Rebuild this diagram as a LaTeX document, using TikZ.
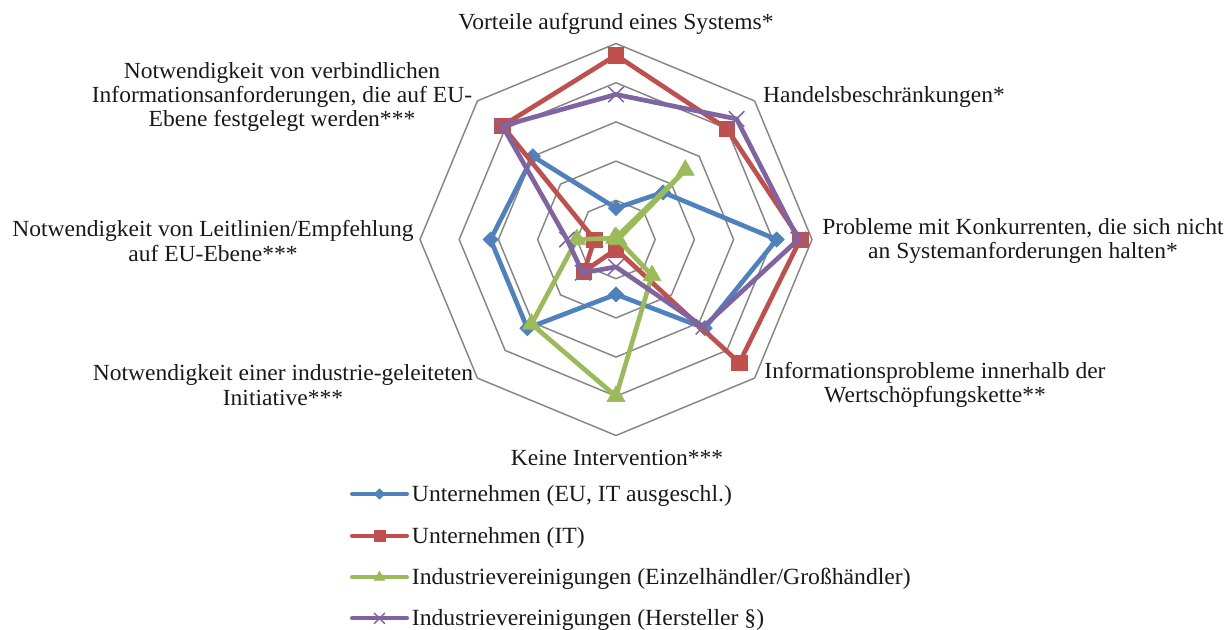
\documentclass[tikz,border=0pt]{standalone}
\usepackage{fontspec}
\setmainfont{Liberation Serif}[FakeStretch=1.02]
\usetikzlibrary{shapes.geometric,shapes.misc,calc}
\definecolor{cblue}{HTML}{4F81BD}
\definecolor{cred}{HTML}{C0504D}
\definecolor{cgreen}{HTML}{9BBB59}
\definecolor{cpurple}{HTML}{8064A2}
\definecolor{cgrid}{HTML}{868686}
\tikzset{
  ring/.style={draw=cgrid, line width=1.1pt, line join=miter},
  ser/.style={draw=#1, line width=3.5pt, line join=round},
  leg/.style={draw=#1, line width=3pt, line cap=round},
  lbl/.style={align=center, font=\fontsize{17.3}{18.3}\selectfont, inner sep=0pt, text=black!90},
  leglbl/.style={font=\fontsize{17.4}{20}\selectfont, inner sep=0pt, text=black!90, anchor=base west},
  bmark/.style={diamond, fill=cblue, draw=cblue, line width=0.5pt, inner sep=0pt, minimum size=11.5pt},
  rmark/.style={rectangle, fill=cred, draw=cred, line width=0.5pt, inner sep=0pt, minimum size=11.5pt},
  gmark/.style={regular polygon, regular polygon sides=3, fill=cgreen, draw=cgreen, line width=0.5pt, inner sep=0pt, minimum size=15.5pt},
  pmark/.style={cross out, draw=cpurple, line width=1.1pt, inner sep=0pt, minimum size=10.5pt},
}
\begin{document}
\begin{tikzpicture}[x=0.75pt,y=-0.75pt]
\useasboundingbox (0,0) rectangle (1231,629);
\coordinate (O) at (616,239.5);
% grid rings
\foreach \r in {1,...,5}
  \draw[ring] ([shift={(-90:\r*39.2)}]O) \foreach \a in {-45,0,...,225} { -- ([shift={(\a:\r*39.2)}]O) } -- cycle;
% data points: Top, NE, Right, SE, Bottom, SW, W, NW
\foreach \x [count=\k from 0] in {0.8,1.7,4.1,3.2,1.4,3.2,3.2,3.0}
  \coordinate (b\k) at ([shift={(-90+45*\k:\x*39.2)}]O);
\foreach \x [count=\k from 0] in {4.7,4.0,4.7,4.45,0.25,1.15,0.55,4.1}
  \coordinate (r\k) at ([shift={(-90+45*\k:\x*39.2)}]O);
\foreach \x [count=\k from 0] in {0.05,2.5,0.05,1.3,4.0,3.05,1.0,0.05}
  \coordinate (g\k) at ([shift={(-90+45*\k:\x*39.2)}]O);
\foreach \x [count=\k from 0] in {3.7,4.35,4.65,3.15,0.7,1.2,1.25,4.1}
  \coordinate (p\k) at ([shift={(-90+45*\k:\x*39.2)}]O);
% series
\draw[ser=cblue] (b0) -- (b1) -- (b2) -- (b3) -- (b4) -- (b5) -- (b6) -- (b7) -- cycle;
\foreach \k in {0,...,7} \node[bmark] (bm\k) at (b\k) {};
\draw[ser=cred] (r0) -- (r1) -- (r2) -- (r3) -- (r4) -- (r5) -- (r6) -- (r7) -- cycle;
\foreach \k in {0,...,7} \node[rmark] (rm\k) at (r\k) {};
\draw[ser=cgreen] (g0) -- (g1) -- (g2) -- (g3) -- (g4) -- (g5) -- (g6) -- (g7) -- cycle;
\foreach \k in {0,...,7} \node[gmark] (gm\k) at (g\k) {};
\draw[ser=cpurple] (p0) -- (p1) -- (p2) -- (p3) -- (p4) -- (p5) -- (p6) -- (p7) -- cycle;
\foreach \k in {0,...,7} \node[pmark] (pm\k) at (p\k) {};
% axis labels
\node[lbl, anchor=base] (t0) at (616,29.5) {Vorteile aufgrund eines Systems*};
\node[lbl] (t1) at (884,97) {Handelsbeschränkungen*};
\node[lbl] (t2) at (1023,241) {Probleme mit Konkurrenten, die sich nicht\\an Systemanforderungen halten*};
\node[lbl] (t3) at (935,385) {Informationsprobleme innerhalb der\\Wertschöpfungskette**};
\node[lbl, anchor=base] (t4) at (617,465) {Keine Intervention***};
\node[lbl] (t5) at (283,385) {Notwendigkeit einer industrie-geleiteten\\Initiative***};
\node[lbl] (t6) at (213,241) {Notwendigkeit von Leitlinien/Empfehlung\\auf EU-Ebene***};
\node[lbl] (t7) at (282,97) {Notwendigkeit von verbindlichen\\Informationsanforderungen, die auf EU-\\Ebene festgelegt werden***};
% legend
\coordinate (la1) at (352,494); \coordinate (lb1) at (407,494);
\coordinate (la2) at (352,535.7); \coordinate (lb2) at (407,535.7);
\coordinate (la3) at (352,577.3); \coordinate (lb3) at (407,577.3);
\coordinate (la4) at (352,618.3); \coordinate (lb4) at (407,618.3);
\draw[leg=cblue] (la1) -- (lb1);
\node[bmark, minimum size=8pt] (lm1) at ($(la1)!0.5!(lb1)$) {};
\draw[leg=cred] (la2) -- (lb2);
\node[rmark, minimum size=8pt] (lm2) at ($(la2)!0.5!(lb2)$) {};
\draw[leg=cgreen] (la3) -- (lb3);
\node[gmark, minimum size=9pt] (lm3) at ($(la3)!0.5!(lb3)$) {};
\draw[leg=cpurple] (la4) -- (lb4);
\node[pmark, minimum size=7pt] (lm4) at ($(la4)!0.5!(lb4)$) {};
\node[leglbl] (lt1) at ([xshift=3.5pt,yshift=-5.7pt]lb1) {Unternehmen (EU, IT ausgeschl.)};
\node[leglbl] (lt2) at ([xshift=3.5pt,yshift=-5.7pt]lb2) {Unternehmen (IT)};
\node[leglbl] (lt3) at ([xshift=3.5pt,yshift=-5.7pt]lb3) {Industrievereinigungen (Einzelhändler/Großhändler)};
\node[leglbl] (lt4) at ([xshift=3.5pt,yshift=-5.7pt]lb4) {Industrievereinigungen (Hersteller §)};
\end{tikzpicture}
\end{document}
